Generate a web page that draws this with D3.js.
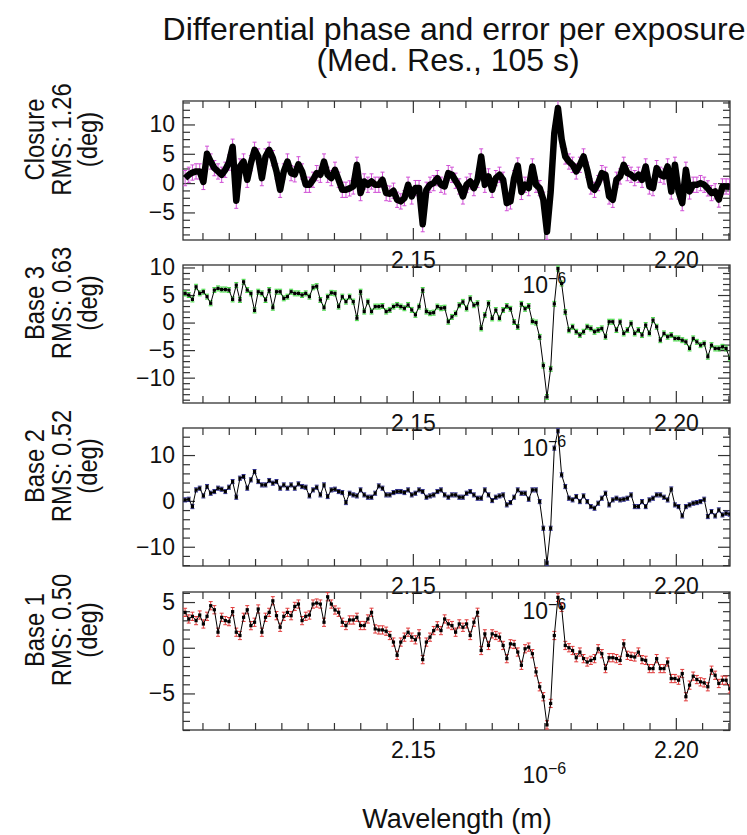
<!DOCTYPE html>
<html><head><meta charset="utf-8">
<script src="https://cdn.jsdelivr.net/npm/d3@7"></script>
<style>
body{margin:0;background:#fff;}
svg{display:block;}
text{font-family:"Liberation Sans",Arial,Helvetica,sans-serif;fill:#111;}
</style>
</head><body>
<svg id="chart" width="747" height="835"></svg>
<script>
// ---------------- data ----------------
const panelNames = ["Closure", "Base 3", "Base 2", "Base 1"];
const rmsValues = [1.26, 0.63, 0.52, 0.50];
const errValues = [1.3, 0.45, 0.45, 0.45];
const lambdaStart = 2.1067, lambdaStep = 0.000695, nPoints = 150;
const xDomain = [2.1063, 2.2103];
const xLabeledTicks = [2.15, 2.20];
const xMinorStep = 0.005;
const yDomains = [[-9.7, 14.0], [-14.6, 10.45], [-14.2, 15.9], [-9.0, 6.1]];
const yMajorSteps = [5, 5, 10, 5];
const yMinorSteps = [1.25, 1, 2, 1];
const errColors = ["#d04fd6", "#3fd63f", "#303090", "#e03a3a"];

const closure = [
0.85,1.42,1.8,2.0,1.99,0.2,5.0,3.68,2.55,1.99,1.42,2.27,3.5,6.2,-3.0,2.84,3.68,0.57,3.41,5.68,
4.54,0.85,4.54,5.68,4.26,2.0,-1.14,1.99,3.68,1.70,1.5,3.2,1.99,-0.28,-0.28,0.57,1.70,1.42,3.68,1.42,
0.85,2.27,0.57,-1.14,-1.14,-0.9,-0.57,3.12,-1.70,0.28,-0.28,0.28,-0.28,-0.28,0.57,-1.70,-1.8,-1.3,-2.84,-3.12,
-2.56,-0.28,-2.27,-0.85,-0.85,-7.0,-1.14,-0.28,0.0,0.85,-0.28,-0.57,1.70,1.42,0.4,-0.57,-2.27,-0.28,0.28,-0.85,
0.57,4.54,-0.28,1.14,-1.14,0.85,1.42,0.57,-3.41,-3.12,0.85,3.0,-1.5,-0.28,-0.85,2.84,-0.28,-0.85,-2.84,-8.3,
-1.5,8.5,12.8,7.5,4.54,3.68,3.12,1.99,3.12,4.54,2.27,-0.57,-1.14,0.0,1.70,1.42,-2.27,-2.84,0.57,1.14,
3.12,1.70,1.42,0.85,1.42,0.57,2.84,-0.57,-0.85,2.55,1.42,1.14,2.84,-1.42,3.12,-1.42,-3.41,2.27,-1.42,-0.28,
-0.28,0.0,-0.28,-0.9,-1.70,-1.4,-2.8,-0.57,-0.57,-0.6];

const base3 = [
5.3,5.0,4.2,6.5,5.3,5.6,4.7,3.5,5.9,6.2,6.0,6.0,5.9,4.2,6.8,4.1,7.4,5.9,5.3,2.2,
5.6,5.3,4.1,5.9,2.7,5.6,5.6,4.4,4.7,5.6,5.3,5.3,5.0,5.3,4.7,6.4,6.6,4.1,2.7,4.7,
5.4,5.3,2.9,4.7,3.8,4.7,3.8,0.8,5.6,2.0,3.8,2.0,2.9,2.9,3.0,2.0,2.3,2.9,3.2,2.9,
2.6,3.2,2.3,1.4,2.9,5.9,2.0,1.7,1.8,2.9,2.6,2.7,0.15,1.03,1.64,3.15,3.76,2.55,4.4,3.15,
3.5,-1.06,1.36,3.5,0.76,2.27,0.76,2.27,3.0,2.5,0.1,-0.8,3.4,2.5,3.0,0.2,0.0,-2.6,-7.8,-13.5,
-8.4,3.4,9.8,7.1,1.9,-1.4,-0.76,-1.67,-2.27,-1.67,-0.76,-1.06,-1.67,-1.36,-1.06,-2.58,0.15,0.15,-1.36,0.15,
-1.97,-1.36,-0.15,-1.97,-1.36,-2.27,-0.45,-1.97,0.45,-0.76,-3.2,-1.97,-2.58,-2.27,-2.88,-2.88,-3.2,-3.5,-4.7,-2.88,
-3.5,-4.1,-3.8,-6.2,-4.1,-4.7,-4.7,-4.4,-4.7,-6.5];

const base2 = [
0.22,0.36,-1.24,2.4,2.77,1.09,3.13,1.67,2.04,2.77,2.55,2.04,2.98,4.22,0.8,4.95,5.31,2.77,4.59,6.4,
4.22,3.49,3.49,4.44,3.86,4.22,2.77,3.49,2.77,3.49,2.77,3.71,3.13,2.98,1.09,2.4,2.98,1.31,3.49,0.95,
2.4,2.55,2.04,1.82,-0.36,1.67,1.31,1.09,2.4,1.31,0.8,0.8,1.67,3.27,2.77,1.31,1.31,1.82,2.04,2.04,
1.82,2.4,1.31,1.67,2.4,2.04,0.8,1.09,1.31,2.04,2.4,1.31,0.8,1.31,1.31,0.8,0.8,1.67,2.04,1.31,
0.58,0.58,2.4,1.31,0.07,0.8,1.09,1.31,-0.87,-0.36,0.8,2.4,1.67,1.67,0.36,2.4,2.4,-0.15,-5.97,-13.6,
-5.97,11.5,15.3,5.68,3.13,0.58,0.22,0.95,-0.15,1.09,-0.15,-1.24,-1.6,-0.51,0.58,1.67,-0.87,0.22,0.58,0.22,
0.36,0.58,1.31,-1.24,-1.24,-0.15,-1.24,0.22,0.58,1.31,1.31,0.8,0.2,2.6,-0.87,-1.24,-3.28,-1.24,-0.87,-0.51,
-0.36,-0.15,0.36,-3.42,-2.33,-3.28,-1.97,-3.06,-2.7,-2.9];

const base1 = [
3.87,3.15,3.44,2.97,3.58,2.60,3.44,4.60,4.16,1.70,3.33,2.97,2.86,3.95,1.70,1.34,3.33,4.16,2.42,2.79,
4.24,1.70,3.33,3.87,5.14,3.51,2.24,3.44,3.87,3.51,4.52,4.78,2.97,3.44,3.58,4.78,4.89,4.78,2.79,5.58,
4.78,4.13,3.88,2.79,2.43,3.04,3.04,3.33,2.43,2.43,3.15,3.88,2.06,1.95,1.95,1.81,1.34,0.62,-0.83,0.62,
1.16,1.70,1.16,0.87,1.52,-1.30,0.62,1.16,1.88,2.4,1.88,3.15,2.61,2.43,1.70,2.61,2.24,2.61,1.34,2.79,
3.88,-0.30,1.52,0.25,1.52,1.34,1.16,0.25,-1.19,0.43,0.36,-0.47,-1.92,-0.11,0.07,-0.65,-2.64,-4.27,-5.36,-8.44,
-6.09,1.34,5.51,4.42,0.25,0.0,-0.30,-1.09,-0.47,-1.19,-1.56,-1.38,-1.19,-0.11,-0.65,-2.28,-1.09,-1.09,-1.19,-1.38,
0.43,-0.83,-0.94,-1.01,-0.47,-1.30,-1.38,-2.28,-2.28,-1.19,-2.28,-2.28,-1.56,-3.37,-3.37,-3.55,-2.82,-5.36,-4.09,-3.11,
-3.48,-3.73,-3.84,-4.27,-2.46,-3.01,-3.91,-3.55,-3.55,-4.5];

const seriesList = [closure, base3, base2, base1];
const wavelengths = d3.range(nPoints).map(i => lambdaStart + i * lambdaStep);

// ---------------- layout ----------------
const svg = d3.select("#chart");
const left = 183, right = 730;
const panelBox = [[101, 240], [265, 403], [428, 566], [592, 730]];
const x = d3.scaleLinear().domain(xDomain).range([left, right]);
const fmtX = d3.format(".2f");
const fmtY = d3.format("d");

svg.append("rect").attr("width", 747).attr("height", 835).attr("fill", "#ffffff");

svg.append("text").attr("x", 454).attr("y", 40).attr("text-anchor", "middle")
  .style("font-size", "32px").text("Differential phase and error per exposure");
svg.append("text").attr("x", 448).attr("y", 71).attr("text-anchor", "middle")
  .style("font-size", "32px").text("(Med. Res., 105 s)");

function ticksBetween(lo, hi, step) {
  const out = [];
  const s = Math.ceil(lo / step - 1e-9);
  for (let k = s; k * step <= hi + 1e-9; k++) out.push(+(k * step).toFixed(6));
  return out;
}

const xMinor = ticksBetween(xDomain[0], xDomain[1], xMinorStep);

panelBox.forEach((box, p) => {
  const [top, bottom] = box;
  const y = d3.scaleLinear().domain(yDomains[p]).range([bottom, top]);
  const g = svg.append("g");
  const clipId = "clip" + p;
  svg.append("clipPath").attr("id", clipId).append("rect")
    .attr("x", left).attr("y", top).attr("width", right - left).attr("height", bottom - top);

  const yMajor = ticksBetween(yDomains[p][0], yDomains[p][1], yMajorSteps[p]);
  const yMinor = ticksBetween(yDomains[p][0], yDomains[p][1], yMinorSteps[p]).filter(v => !yMajor.some(m => Math.abs(m - v) < 1e-6));
  const xMin = xMinor.filter(v => !xLabeledTicks.some(m => Math.abs(m - v) < 1e-6));

  const axStyle = sel => {
    sel.select(".domain").remove();
    sel.selectAll(".tick line").attr("stroke", "#333").attr("stroke-width", 1.2);
    sel.selectAll(".tick text").style("font-size", "23px").attr("fill", "#111");
  };

  g.append("g").attr("transform", `translate(${left},0)`)
    .call(d3.axisLeft(y).tickValues(yMajor).tickSize(-12).tickPadding(8).tickFormat(fmtY)).call(axStyle);
  g.append("g").attr("transform", `translate(${left},0)`)
    .call(d3.axisLeft(y).tickValues(yMinor).tickSize(-7).tickFormat("")).call(axStyle);
  g.append("g").attr("transform", `translate(${right},0)`)
    .call(d3.axisRight(y).tickValues(yMajor).tickSize(-12).tickFormat("")).call(axStyle);
  g.append("g").attr("transform", `translate(${right},0)`)
    .call(d3.axisRight(y).tickValues(yMinor).tickSize(-7).tickFormat("")).call(axStyle);
  g.append("g").attr("transform", `translate(0,${bottom})`)
    .call(d3.axisBottom(x).tickValues(xLabeledTicks).tickSize(-12).tickPadding(12).tickFormat(fmtX)).call(axStyle);
  g.append("g").attr("transform", `translate(0,${bottom})`)
    .call(d3.axisBottom(x).tickValues(xMin).tickSize(-7).tickFormat("")).call(axStyle);
  g.append("g").attr("transform", `translate(0,${top})`)
    .call(d3.axisTop(x).tickValues(xLabeledTicks).tickSize(-12).tickFormat("")).call(axStyle);
  g.append("g").attr("transform", `translate(0,${top})`)
    .call(d3.axisTop(x).tickValues(xMin).tickSize(-7).tickFormat("")).call(axStyle);

  g.append("rect").attr("x", left).attr("y", top).attr("width", right - left).attr("height", bottom - top)
    .attr("fill", "none").attr("stroke", "#333").attr("stroke-width", 1.3);

  const ex = g.append("text").attr("x", x(2.175)).attr("y", bottom + 53).attr("text-anchor", "middle")
    .style("font-size", "23px");
  ex.append("tspan").text("10");
  ex.append("tspan").attr("dy", -9).style("font-size", "16px").text("\u2212" + "6");

  // y title (3 lines, rotated, slightly condensed along its length)
  const cy = (top + bottom) / 2 - 31;
  const lines = [panelNames[p], "RMS: " + rmsValues[p].toFixed(2), "(deg)"];
  const baseX = [44, 71, 97];
  lines.forEach((t, k) => {
    const tx = g.append("text").attr("transform", `translate(${baseX[k]},${cy}) rotate(-90)`)
      .attr("text-anchor", "middle").style("font-size", "28px").text(t);
    const len = tx.node().getComputedTextLength();
    tx.attr("textLength", len * 0.85).attr("lengthAdjust", "spacingAndGlyphs");
  });

  const data = seriesList[p].map((v, i) => ({ w: wavelengths[i], v }));
  const dg = g.append("g").attr("clip-path", `url(#${clipId})`);
  const e = errValues[p];
  const bars = dg.append("g").attr("stroke", errColors[p]).attr("stroke-width", 1);
  data.forEach(d => {
    const cx = x(d.w), y0 = y(d.v - e), y1 = y(d.v + e);
    bars.append("line").attr("x1", cx).attr("x2", cx).attr("y1", y0).attr("y2", y1);
    bars.append("line").attr("x1", cx - 2).attr("x2", cx + 2).attr("y1", y0).attr("y2", y0);
    bars.append("line").attr("x1", cx - 2).attr("x2", cx + 2).attr("y1", y1).attr("y2", y1);
  });
  const line = d3.line().x(d => x(d.w)).y(d => y(d.v));
  dg.append("path").datum(data).attr("d", line).attr("fill", "none").attr("stroke", "#000")
    .attr("stroke-width", p === 0 ? 6.5 : 1).attr("stroke-linejoin", "round");
  if (p > 0) {
    dg.append("g").selectAll("rect").data(data).join("rect")
      .attr("x", d => x(d.w) - 1.6).attr("y", d => y(d.v) - 1.6)
      .attr("width", 3.2).attr("height", 3.2).attr("fill", "#000");
  }
});

svg.append("text").attr("x", 457).attr("y", 828).attr("text-anchor", "middle")
  .style("font-size", "27px").text("Wavelength (m)");
</script>
</body></html>
